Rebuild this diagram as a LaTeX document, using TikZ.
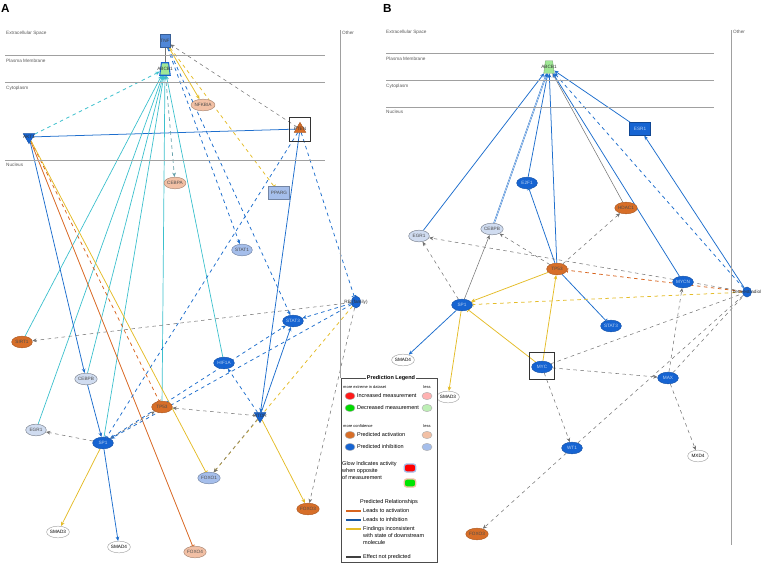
\documentclass[tikz,border=0pt]{standalone}
\usepackage{fontspec}
\setmainfont{Liberation Sans}
\usetikzlibrary{shapes.geometric, arrows.meta, positioning, fit, backgrounds}

\definecolor{inhblue}{RGB}{22,100,210}
\definecolor{tnfblue}{RGB}{80,135,215}
\definecolor{inhlight}{RGB}{165,190,235}
\definecolor{inhpale}{RGB}{208,220,240}
\definecolor{actorange}{RGB}{215,110,40}
\definecolor{actlight}{RGB}{242,192,165}
\definecolor{decgreen}{RGB}{160,232,150}
\definecolor{lnorange}{RGB}{215,100,30}
\definecolor{lnblue}{RGB}{30,110,205}
\definecolor{lnyellow}{RGB}{228,188,40}
\definecolor{lncyan}{RGB}{60,192,205}
\definecolor{lnteal}{RGB}{100,160,170}
\definecolor{lngrey}{RGB}{115,115,115}
\definecolor{compline}{RGB}{160,160,160}

\newcommand{\genefont}{\fontsize{4}{4.5}\selectfont}
\newcommand{\legfont}{\fontsize{4.7}{5.3}\selectfont}

\begin{document}
\begin{tikzpicture}[
  x=0.03cm, y=-0.03cm,
  gene/.style={ellipse, draw=gray!70, fill=#1, minimum width=0.62cm,
               minimum height=0.35cm, inner sep=0pt, font=\genefont},
  gene/.default=white,
  inhgene/.style={gene=inhblue, draw=inhblue!80!black, text=white!70!inhblue},
  lightgene/.style={gene=inhlight, draw=inhlight!70!black, text=black!70},
  palegene/.style={gene=inhpale, draw=inhpale!60!black, text=black!70},
  actgene/.style={gene=actorange, draw=actorange!80!black, text=black!70},
  actlgene/.style={gene=actlight, draw=actlight!70!black, text=black!70},
  genelab/.style={font=\genefont, text=black!80, inner sep=0pt},
  kinase/.style={isosceles triangle, isosceles triangle apex angle=60,
                 shape border rotate=#1, fill=inhblue, draw=inhblue!80!black,
                 minimum size=0.3cm, inner sep=0pt},
  kinase/.default=-90,
  receptor/.style={rectangle, fill=#1, draw=#1!70!black, minimum width=0.63cm,
                   minimum height=0.38cm, inner sep=0pt, font=\genefont},
  transporter/.style={rectangle, minimum width=0.3cm, minimum height=0.36cm,
                      inner sep=0pt, label={[genelab]center:#1}},
  comp/.style={anchor=west, font=\genefont, text=black!65, inner sep=0pt},
  panel/.style={anchor=west, font=\bfseries\fontsize{10}{10}\selectfont, inner sep=0pt},
  lead/.style={-{Stealth[length=1.3mm, width=1.1mm]}},
  block/.style={-{Bar[width=1.4mm]}},
  actline/.style={lnorange, line width=0.65pt},
  inhline/.style={lnblue, line width=0.65pt},
  incline/.style={lnyellow, line width=0.65pt},
  cyanline/.style={lncyan, line width=0.6pt},
  nopred/.style={lngrey, line width=0.45pt},
]
  \useasboundingbox (0,0) rectangle (763,563);

  % ── Panel A: compartments ──
  \node[panel] (labA) at (1,8) {A};
  \draw[compline] (5,55) -- (325,55);
  \draw[compline] (5,82) -- (325,82);
  \draw[compline] (5,160) -- (325,160);
  \draw[compline] (340,30) -- (340,378);
  \node[comp] (exA) at (6,33) {Extracellular Space};
  \node[comp] (pmA) at (6,61) {Plasma Membrane};
  \node[comp] (cyA) at (6,88) {Cytoplasm};
  \node[comp] (nuA) at (6,165) {Nucleus};
  \node[comp] (otA) at (342,33) {Other};

  % ── Panel A: molecules ──
  \node[receptor=tnfblue, minimum width=0.3cm, minimum height=0.4cm, text=black!75] (tnfA) at (165,41) {TNF};
  \node[transporter=ABCB1] (abcA) at (165,69) {};
  \node[actlgene] (nfkA) at (203,105) {NFKBIA};
  \node[kinase] (aktA) at (29,137) {};
  \node[genelab] (aktlabA) at (aktA.center) {AKT1};
  \node[kinase=90, fill=actorange, draw=actorange!80!black] (ptenA) at (300,129) {};
  \node[genelab] (ptenlabA) at (ptenA.center) {PTEN};
  \node[draw=black!80, minimum width=0.63cm, minimum height=0.72cm] (ptenboxA) at (300,129) {};
  \node[actlgene] (cebpaA) at (175,183) {CEBPA};
  \node[receptor=inhlight, text=black!70] (ppargA) at (279,193) {PPARG};
  \node[lightgene] (stat1A) at (242,250) {STAT1};
  \node[gene=inhblue, draw=inhblue!80!black, minimum width=0.27cm, minimum height=0.36cm,
        label={[genelab]center:RB (family)}] (rbA) at (356,302) {};
  \node[inhgene] (stat3A) at (293,321) {STAT3};
  \node[actgene] (sirtA) at (22,342) {SIRT1};
  \node[inhgene] (hifA) at (224,363) {HIF1A};
  \node[palegene] (cebpbA) at (86,379) {CEBPB};
  \node[actgene] (tp53A) at (162,407) {TP53};
  \node[kinase] (mtorA) at (260,416) {};
  \node[genelab] (mtorlabA) at (mtorA.center) {MTOR};
  \node[palegene] (egr1A) at (36,430) {EGR1};
  \node[inhgene] (sp1A) at (103,443) {SP1};
  \node[lightgene] (foxo1A) at (209,478) {FOXO1};
  \node[actgene] (foxo3A) at (308,509) {FOXO3};
  \node[gene] (smad3A) at (58,532) {SMAD3};
  \node[gene] (smad4A) at (119,547) {SMAD4};
  \node[actlgene] (foxo4A) at (195,552) {FOXO4};

  % ── Panel A: relationships ──
  \begin{scope}[on background layer]
  \draw[nopred] (abcA) -- (tnfA);
  \draw[nopred, dashed, lead] (ptenA) -- (tnfA);
  \draw[incline, lead] (tnfA) -- (nfkA);
  \draw[incline, dashed, block] (tnfA) -- (ppargA);
  \draw[inhline, dashed, lead] (tnfA) -- (stat1A);
  \draw[inhline, dashed, lead] (tnfA) -- (stat3A);
  \draw[cyanline, dashed, lead] (aktA) -- (abcA);
  \draw[inhline] (ptenA) -- (aktA);
  \draw[cyanline, lead] (sirtA) -- (abcA);
  \draw[cyanline, lead] (egr1A) -- (abcA);
  \draw[cyanline, lead] (cebpbA) -- (abcA);
  \draw[cyanline, lead] (sp1A) -- (abcA);
  \draw[cyanline, lead] (tp53A) -- (abcA);
  \draw[cyanline, lead] (hifA) -- (abcA);
  \draw[lnteal, line width=0.6pt, dashed, lead] (abcA) -- (cebpaA);
  \draw[inhline, lead] (aktA) -- (cebpbA);
  \draw[inhline, lead] (cebpbA) -- (sp1A);
  \draw[actline, dashed, block] (aktA) -- (tp53A);
  \draw[actline, block] (aktA) -- (foxo4A);
  \draw[incline, block] (aktA) -- (foxo1A);
  \draw[inhline, dashed, block] (ptenA) -- (sp1A);
  \draw[inhline, lead] (ptenA) -- (mtorA);
  \draw[inhline, dashed, block] (ptenA) -- (rbA);
  \draw[inhline, dashed, lead] (rbA) -- (stat3A);
  \draw[inhline, dashed, lead] (rbA) -- (sp1A);
  \draw[nopred, dashed, lead] (rbA) -- (sirtA);
  \draw[incline, dashed, lead] (rbA) -- (foxo1A);
  \draw[nopred, dashed, lead] (mtorA) -- (foxo1A);
  \draw[nopred, dashed, lead] (rbA) -- (foxo3A);
  \draw[incline, lead] (mtorA) -- (foxo3A);
  \draw[nopred, dashed, lead] (mtorA) -- (tp53A);
  \draw[inhline, dashed, lead] (mtorA) -- (hifA);
  \draw[inhline, lead] (mtorA) -- (stat3A);
  \draw[inhline, dashed, {Stealth[length=1.3mm, width=1.1mm]}-{Stealth[length=1.3mm, width=1.1mm]}] (sp1A) -- (stat3A);
  \draw[nopred, dashed, lead] (sp1A) -- (tp53A);
  \draw[nopred, dashed, lead] (sp1A) -- (egr1A);
  \draw[incline, lead] (sp1A) -- (smad3A);
  \draw[inhline, lead] (sp1A) -- (smad4A);
  \filldraw[fill=decgreen, draw=inhblue, line width=0.9pt]
    (abcA.south west) -- (abcA.south east) -- ([xshift=-0.05cm]abcA.north east)
    -- ([xshift=0.05cm]abcA.north west) -- cycle;
  \end{scope}

  % ── Panel B: compartments ──
  \node[panel] (labB) at (383,8) {B};
  \draw[compline] (386,53) -- (714,53);
  \draw[compline] (386,80) -- (714,80);
  \draw[compline] (386,107) -- (714,107);
  \draw[compline] (731,30) -- (731,545);
  \node[comp] (exB) at (386,32) {Extracellular Space};
  \node[comp] (pmB) at (386,59) {Plasma Membrane};
  \node[comp] (cyB) at (386,86) {Cytoplasm};
  \node[comp] (nuB) at (386,112) {Nucleus};
  \node[comp] (otB) at (733,32) {Other};

  % ── Panel B: molecules ──
  \node[transporter=ABCB1] (abcB) at (549,67) {};
  \node[receptor=inhblue, text=white!70!inhblue] (esrB) at (640,129) {ESR1};
  \node[inhgene] (e2fB) at (527,183) {E2F1};
  \node[actgene] (hdacB) at (626,208) {HDAC1};
  \node[palegene] (egr1B) at (419,236) {EGR1};
  \node[palegene] (cebpbB) at (492,229) {CEBPB};
  \node[actgene] (tp53B) at (557,269) {TP53};
  \node[inhgene] (mycnB) at (683,282) {MYCN};
  \node[gene=inhblue, draw=inhblue!80!black, minimum width=0.27cm, minimum height=0.3cm,
        label={[genelab]center:beta-estradiol}] (estB) at (747,292) {};
  \node[inhgene] (sp1B) at (462,305) {SP1};
  \node[inhgene] (stat3B) at (611,326) {STAT3};
  \node[gene] (smad4B) at (403,360) {SMAD4};
  \node[inhgene] (mycB) at (542,367) {MYC};
  \node[draw=black!80, minimum width=0.75cm, minimum height=0.8cm] (mycboxB) at (542,366) {};
  \node[inhgene] (maxB) at (668,378) {MAX};
  \node[gene] (smad3B) at (448,397) {SMAD3};
  \node[inhgene] (wt1B) at (572,448) {WT1};
  \node[gene] (mxd4B) at (698,456) {MXD4};
  \node[actgene] (foxo3B) at (477,534) {FOXO3};

  % ── Panel B: relationships ──
  \begin{scope}[on background layer]
  \draw[inhline, lead] (egr1B) -- (abcB);
  \draw[inhline, double=white, double distance=0.4pt, line width=0.4pt, lead] (cebpbB) -- (abcB);
  \draw[inhline, lead] (e2fB) -- (abcB);
  \draw[inhline, lead] (tp53B) -- (abcB);
  \draw[nopred, lead] (hdacB) -- (abcB);
  \draw[inhline, lead] (mycnB) -- (abcB);
  \draw[inhline, dashed, lead] (estB) -- (abcB);
  \draw[inhline, lead] (estB) -- (esrB);
  \draw[inhline, lead] (esrB) -- (abcB);
  \draw[nopred, lead] (sp1B) -- (cebpbB);
  \draw[nopred, dashed, lead] (sp1B) -- (egr1B);
  \draw[nopred, dashed, lead] (tp53B) -- (cebpbB);
  \draw[nopred, dashed, lead] (tp53B) -- (hdacB);
  \draw[inhline, block] (tp53B) -- (e2fB);
  \draw[inhline, block] (tp53B) -- (stat3B);
  \draw[incline, lead] (tp53B) -- (sp1B);
  \draw[nopred, dashed, lead] (estB) -- (egr1B);
  \draw[actline, dashed, block] (estB) -- (tp53B);
  \draw[incline, dashed, block] (estB) -- (sp1B);
  \draw[incline, lead] (mycB) -- (tp53B);
  \draw[incline, block] (mycB) -- (sp1B);
  \draw[inhline, lead] (sp1B) -- (smad4B);
  \draw[incline, lead] (sp1B) -- (smad3B);
  \draw[nopred, dashed] (mycB) -- (estB);
  \draw[nopred, dashed] (maxB) -- (estB);
  \draw[nopred, dashed] (wt1B) -- (estB);
  \draw[nopred, dashed, lead] (maxB) -- (mycnB);
  \draw[nopred, dashed, lead] (mycB) -- (maxB);
  \draw[nopred, dashed, lead] (mycB) -- (wt1B);
  \draw[nopred, dashed, lead] (wt1B) -- (foxo3B);
  \draw[nopred, dashed, lead] (maxB) -- (mxd4B);
  \filldraw[fill=decgreen, draw=decgreen!70!black, line width=0.3pt]
    (abcB.south west) -- (abcB.south east) -- ([xshift=-0.05cm]abcB.north east)
    -- ([xshift=0.05cm]abcB.north west) -- cycle;
  \end{scope}

  % ── Prediction legend ──
  \node[draw=black!70, fill=white, minimum width=2.88cm, minimum height=5.52cm, inner sep=0pt] (legend) at (389,470) {};
  \node[fill=white, inner sep=0.6pt, font=\bfseries\legfont] (legtitle) at (391,378) {Prediction Legend};
  \node[anchor=west, font=\fontsize{3.4}{4}\selectfont, inner sep=0pt] (extreme) at (343,387) {more extreme in dataset};
  \node[font=\fontsize{3.4}{4}\selectfont, inner sep=0pt] (lessA) at (427,387) {less};
  \node[ellipse, fill=red!90, draw=gray!60, minimum width=0.3cm, minimum height=0.22cm, inner sep=0pt] (incdot) at (350,396) {};
  \node[right=0.05cm of incdot, font=\legfont, inner sep=0pt] (inctxt) {Increased measurement};
  \node[ellipse, fill=red!30, draw=gray!60, minimum width=0.3cm, minimum height=0.22cm, inner sep=0pt] (inclight) at (427,396) {};
  \node[ellipse, fill=green!85!black, draw=gray!60, minimum width=0.3cm, minimum height=0.22cm, inner sep=0pt] (decdot) at (350,408) {};
  \node[right=0.05cm of decdot, font=\legfont, inner sep=0pt] (dectxt) {Decreased measurement};
  \node[ellipse, fill=decgreen!70, draw=gray!60, minimum width=0.3cm, minimum height=0.22cm, inner sep=0pt] (declight) at (427,408) {};
  \node[anchor=west, font=\fontsize{3.4}{4}\selectfont, inner sep=0pt] (confid) at (343,426) {more confidence};
  \node[font=\fontsize{3.4}{4}\selectfont, inner sep=0pt] (lessB) at (427,426) {less};
  \node[ellipse, fill=actorange, draw=gray!60, minimum width=0.3cm, minimum height=0.22cm, inner sep=0pt] (actdot) at (350,435) {};
  \node[right=0.05cm of actdot, font=\legfont, inner sep=0pt] (acttxt) {Predicted activation};
  \node[ellipse, fill=actlight, draw=gray!60, minimum width=0.3cm, minimum height=0.22cm, inner sep=0pt] (actlightdot) at (427,435) {};
  \node[ellipse, fill=inhblue, draw=gray!60, minimum width=0.3cm, minimum height=0.22cm, inner sep=0pt] (inhdot) at (350,447) {};
  \node[right=0.05cm of inhdot, font=\legfont, inner sep=0pt] (inhtxt) {Predicted inhibition};
  \node[ellipse, fill=inhlight, draw=gray!60, minimum width=0.3cm, minimum height=0.22cm, inner sep=0pt] (inhlightdot) at (427,447) {};
  \node[anchor=north west, font=\legfont, align=left, inner sep=0pt] (glowtxt) at (342,461)
    {Glow Indicates activity\\[1pt]when opposite\\[1pt]of measurement};
  \node[rounded corners=2pt, fill=red, draw=inhlight, line width=1.1pt, minimum width=0.34cm,
        minimum height=0.24cm, inner sep=0pt] (glowred) at (410,468) {};
  \node[rounded corners=2pt, fill=green!90!black, draw=actlight, line width=1.1pt, minimum width=0.34cm,
        minimum height=0.24cm, inner sep=0pt] (glowgreen) at (410,483) {};
  \node[font=\legfont, inner sep=0pt] (reltitle) at (389,502) {Predicted Relationships};
  \coordinate (kA) at (346,511); \coordinate (kAe) at (361,511);
  \coordinate (kB) at (346,520); \coordinate (kBe) at (361,520);
  \coordinate (kC) at (346,529); \coordinate (kCe) at (361,529);
  \coordinate (kD) at (346,557); \coordinate (kDe) at (361,557);
  \draw[lnorange, line width=0.9pt] (kA) -- (kAe);
  \draw[lnblue!80!black, line width=0.9pt] (kB) -- (kBe);
  \draw[lnyellow, line width=0.9pt] (kC) -- (kCe);
  \draw[black!75, line width=0.9pt] (kD) -- (kDe);
  \node[anchor=west, font=\legfont, inner sep=0pt] (acttext) at (363,511) {Leads to activation};
  \node[anchor=west, font=\legfont, inner sep=0pt] (inhtext) at (363,520) {Leads to inhibition};
  \node[anchor=north west, font=\legfont, align=left, inner sep=0pt] (inctext) at (363,526)
    {Findings inconsistent\\[1pt]with state of downstream\\[1pt]molecule};
  \node[anchor=west, font=\legfont, inner sep=0pt] (nptext) at (363,557) {Effect not predicted};
\end{tikzpicture}
\end{document}
